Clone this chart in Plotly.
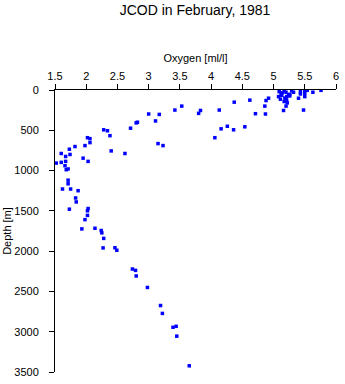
import plotly.graph_objects as go

# Oxygen [ml/l] values and matching depths [m]
oxygen = [
    5.09, 5.17, 5.20, 5.29, 5.32, 5.43, 5.50, 5.54, 5.63, 5.76,
    5.12, 5.26, 5.43, 5.50, 5.08, 5.21, 5.26, 5.50, 4.92, 5.11,
    5.20, 5.40, 4.88, 5.17, 5.21, 4.86, 5.20, 5.16, 5.48, 4.71,
    4.87, 5.14, 5.24, 5.18, 5.22, 5.13,
    3.17, 3.11, 3.42, 3.53, 3.83, 3.80, 4.13, 4.37, 4.62, 4.26,
    4.54, 4.16, 4.36, 4.06, 3.15, 3.23, 3.00,
    2.82, 2.80, 2.71, 2.28, 2.34, 2.38, 2.02, 2.06, 2.06, 1.98,
    1.82, 1.73, 1.74, 2.40, 2.62, 1.95, 2.03, 1.60, 1.67, 1.52,
    1.60, 1.67, 1.66, 1.68, 1.71, 1.71, 1.71,
    1.62, 1.75, 1.87, 1.83, 1.84, 1.73, 2.03, 2.02, 2.02, 1.98,
    1.93, 2.14, 2.24, 2.25, 2.28, 2.27, 2.46, 2.49, 2.74, 2.79,
    2.80, 2.98, 3.19, 3.22, 3.39, 3.44, 3.45, 3.65,
]
depth = [
    21, 9, 28, 9, 28, 21, 9, 4, 28, 4,
    49, 53, 49, 40, 82, 82, 74, 82, 102, 114,
    114, 102, 131, 143, 131, 200, 200, 254, 249, 294,
    298, 35, 60, 100, 160, 65,
    303, 384, 249, 200, 254, 290, 249, 151, 126, 450,
    457, 482, 494, 592, 665, 690, 298,
    400, 408, 474, 494, 506, 567, 592, 604, 653, 690,
    702, 735, 800, 756, 788, 846, 886, 788, 825, 907,
    898, 886, 940, 989, 980, 1119, 1164,
    1229, 1229, 1250, 1340, 1389, 1479, 1471, 1499, 1556, 1609,
    1724, 1716, 1744, 1773, 1842, 1960, 1958, 1989, 2222, 2239,
    2308, 2451, 2675, 2773, 2945, 2933, 3055, 3423,
]

x_ticks = [1.5, 2, 2.5, 3, 3.5, 4, 4.5, 5, 5.5, 6]
x_tick_labels = ["1.5", "2", "2.5", "3", "3.5", "4", "4.5", "5", "5.5", "6"]
y_ticks = [0, 500, 1000, 1500, 2000, 2500, 3000, 3500]
y_tick_labels = ["0", "500", "1000", "1500", "2000", "2500", "3000", "3500"]

font_family = "Liberation Sans, Arial, sans-serif"

fig = go.Figure(
    go.Scatter(
        x=oxygen,
        y=depth,
        mode="markers",
        marker=dict(symbol="square", size=3.5, color="#0000ff", line=dict(width=0)),
        hoverinfo="x+y",
    )
)

fig.update_layout(
    width=345,
    height=384,
    margin=dict(l=55, r=6, t=90, b=8),
    paper_bgcolor="white",
    plot_bgcolor="white",
    showlegend=False,
    font=dict(family=font_family, size=11, color="black"),
    title=dict(
        text="JCOD in February, 1981",
        x=195 / 345, xanchor="center", xref="container",
        y=1 - 10 / 384, yanchor="middle", yref="container",
        font=dict(family=font_family, size=14, color="black"),
    ),
    xaxis=dict(
        side="top",
        range=[1.5, 6],
        tickvals=x_ticks,
        ticktext=x_tick_labels,
        ticks="outside",
        ticklen=5,
        tickcolor="black",
        showline=True,
        linecolor="black",
        linewidth=1,
        showgrid=False,
        zeroline=False,
        title=dict(text="Oxygen [ml/l]", standoff=4, font=dict(size=11)),
        tickfont=dict(size=11),
    ),
    yaxis=dict(
        range=[3500, 0],
        tickvals=y_ticks,
        ticktext=y_tick_labels,
        ticks="outside",
        ticklen=5,
        tickcolor="black",
        ticklabelstandoff=8,
        showline=True,
        linecolor="black",
        linewidth=1,
        showgrid=False,
        zeroline=False,
        title=dict(text="Depth [m]", standoff=0, font=dict(size=11)),
        tickfont=dict(size=11),
    ),
)

fig.write_html("out.html")
